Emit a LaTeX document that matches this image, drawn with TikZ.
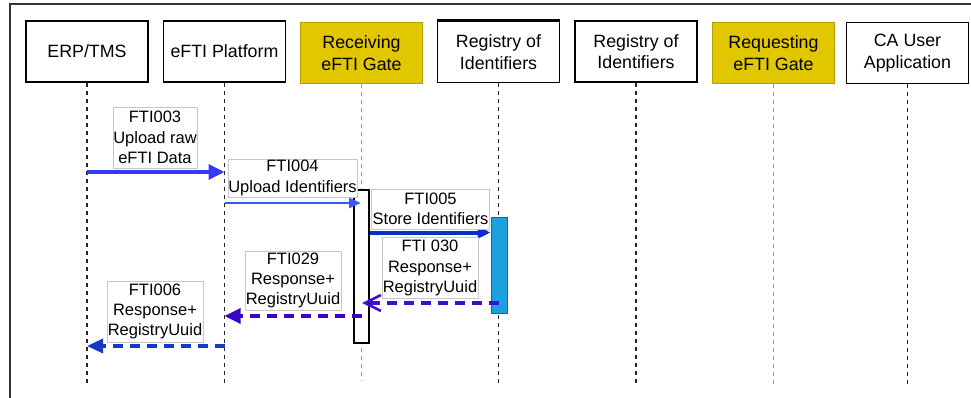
\documentclass[tikz,border=0pt]{standalone}
\usepackage{fontspec}
\setmainfont{Liberation Sans}
\usetikzlibrary{arrows.meta}
\definecolor{gold}{HTML}{E1C700}
\definecolor{goldline}{HTML}{B89E00}
\definecolor{goldlife}{HTML}{B0A060}
\definecolor{blueA}{HTML}{3838F8}
\definecolor{blueB}{HTML}{3A5AF8}
\definecolor{blueC}{HTML}{0A2ECC}
\definecolor{purpA}{HTML}{3C10D4}
\definecolor{purpB}{HTML}{3A06C4}
\definecolor{blueD}{HTML}{1838C8}
\definecolor{actfill}{HTML}{1CA0E0}
\definecolor{actline}{HTML}{1565A8}
\begin{document}
\begin{tikzpicture}[x=1pt,y=-1pt,
  hdr/.style={draw=black, line width=1.5pt, fill=white, minimum width=122pt, minimum height=61pt,
    inner sep=0pt, align=center, font=\fontsize{17.8}{21.7}\selectfont},
  gate/.style={hdr, fill=gold, draw=goldline, line width=1pt},
  life/.style={draw=black!85, line width=1.4pt, dash pattern=on 4pt off 4pt},
  glife/.style={draw=goldlife, line width=1.4pt, dash pattern=on 4pt off 4pt},
  lbl/.style={draw=black!22, line width=0.8pt, fill=white, inner sep=0pt, align=center,
    font=\fontsize{16.5}{20.3}\selectfont},
  dsh/.style={line width=3.4pt, dash pattern=on 10pt off 7pt},
]
\useasboundingbox (0,0) rectangle (971,398);
% frame
\draw[black!80, line width=1.5pt] (10,398) -- (10,4) -- (971,4);

% headers
\node[hdr]  (erp)  at (87,51.5)    {ERP/TMS};
\node[hdr]  (plat) at (224.5,51.5) {eFTI Platform};
\node[gate] (recv) at (361.5,53)   {Receiving\\eFTI Gate};
\node[hdr]  (reg1) at (498.5,52)   {Registry of\\Identifiers};
\node[hdr]  (reg2) at (636,51.5)   {Registry of\\Identifiers};
\node[gate] (reqg) at (773.5,53)   {Requesting\\eFTI Gate};
\node[hdr]  (ca)   at (907.5,53)   {CA User\\Application};
\draw[line width=2.6pt] (reg1.north west) -- (reg1.north east);

% lifelines
\draw[life]  (erp.south)  -- (erp.south |- 0,385);
\draw[life]  (plat.south) -- (plat.south |- 0,385);
\draw[glife] (recv.south) -- (recv.south |- 0,381);
\draw[life]  (reg1.south) -- (reg1.south |- 0,385);
\draw[life]  (reg2.south) -- (reg2.south |- 0,385);
\draw[glife] (reqg.south) -- (reqg.south |- 0,385);
\draw[life]  (ca.south)   -- (ca.south |- 0,385);

% activation boxes
\node[draw=black, line width=1.5pt, fill=white, minimum width=15pt, minimum height=153pt, inner sep=0pt]
  (actR) at (361.5,266.5) {};
\node[draw=actline, line width=1pt, fill=actfill, minimum width=16pt, minimum height=96pt, inner sep=0pt]
  (actG) at (499,265) {};

% message end points
\coordinate (m3a) at (erp.south |- 0,172);
\coordinate (m3b) at (plat.south |- 0,172);
\coordinate (m4a) at (plat.south |- 0,203);
\coordinate (m4b) at (361,203);
\coordinate (m5a) at (actR.east |- 0,232.5);
\coordinate (m5b) at (actG.west |- 0,232.5);
\coordinate (m30a) at (reg1.south |- 0,303);
\coordinate (m30b) at (362,303);
\coordinate (m29a) at (recv.south |- 0,316);
\coordinate (m29b) at (plat.south |- 0,316);
\coordinate (m6a) at (plat.south |- 0,346);
\coordinate (m6b) at (erp.south |- 0,346);

% arrows
\draw[blueA, line width=3.6pt, -{Triangle[length=16pt,width=15pt]}] (m3a) -- (m3b);
\draw[blueB, line width=2.6pt, -{Triangle[length=12pt,width=10pt]}] (m4a) -- (m4b);
\draw[blueC, line width=4pt, -{Triangle[length=13pt,width=12pt]}] (m5a) -- (m5b);
\draw[purpA, dsh, -{Straight Barb[length=16pt,width=16pt,line width=2.6pt]}] (m30a) -- (m30b);
\draw[purpB, dsh, -{Triangle[length=16pt,width=15pt]}] (m29a) -- (m29b);
\draw[blueD, dsh, -{Triangle[length=16pt,width=14pt]}] (m6a) -- (m6b);

% labels
\node[lbl, minimum width=84pt, minimum height=61pt] (l3) at (155,137.5) {FTI003\\Upload raw\\eFTI Data};
\node[lbl, minimum width=129pt, minimum height=38pt] (l4) at (292.5,178) {FTI004\\Upload Identifiers};
\node[lbl, minimum width=118pt, minimum height=40pt] (l5) at (430.5,209) {FTI005\\Store Identifiers};
\node[lbl, minimum width=96pt, minimum height=61pt] (l30) at (430,268) {FTI 030\\Response+\\RegistryUuid};
\node[lbl, minimum width=96pt, minimum height=59pt] (l29) at (293,280.5) {FTI029\\Response+\\RegistryUuid};
\node[lbl, minimum width=96pt, minimum height=61pt] (l6) at (155,311.5) {FTI006\\Response+\\RegistryUuid};
\end{tikzpicture}
\end{document}
